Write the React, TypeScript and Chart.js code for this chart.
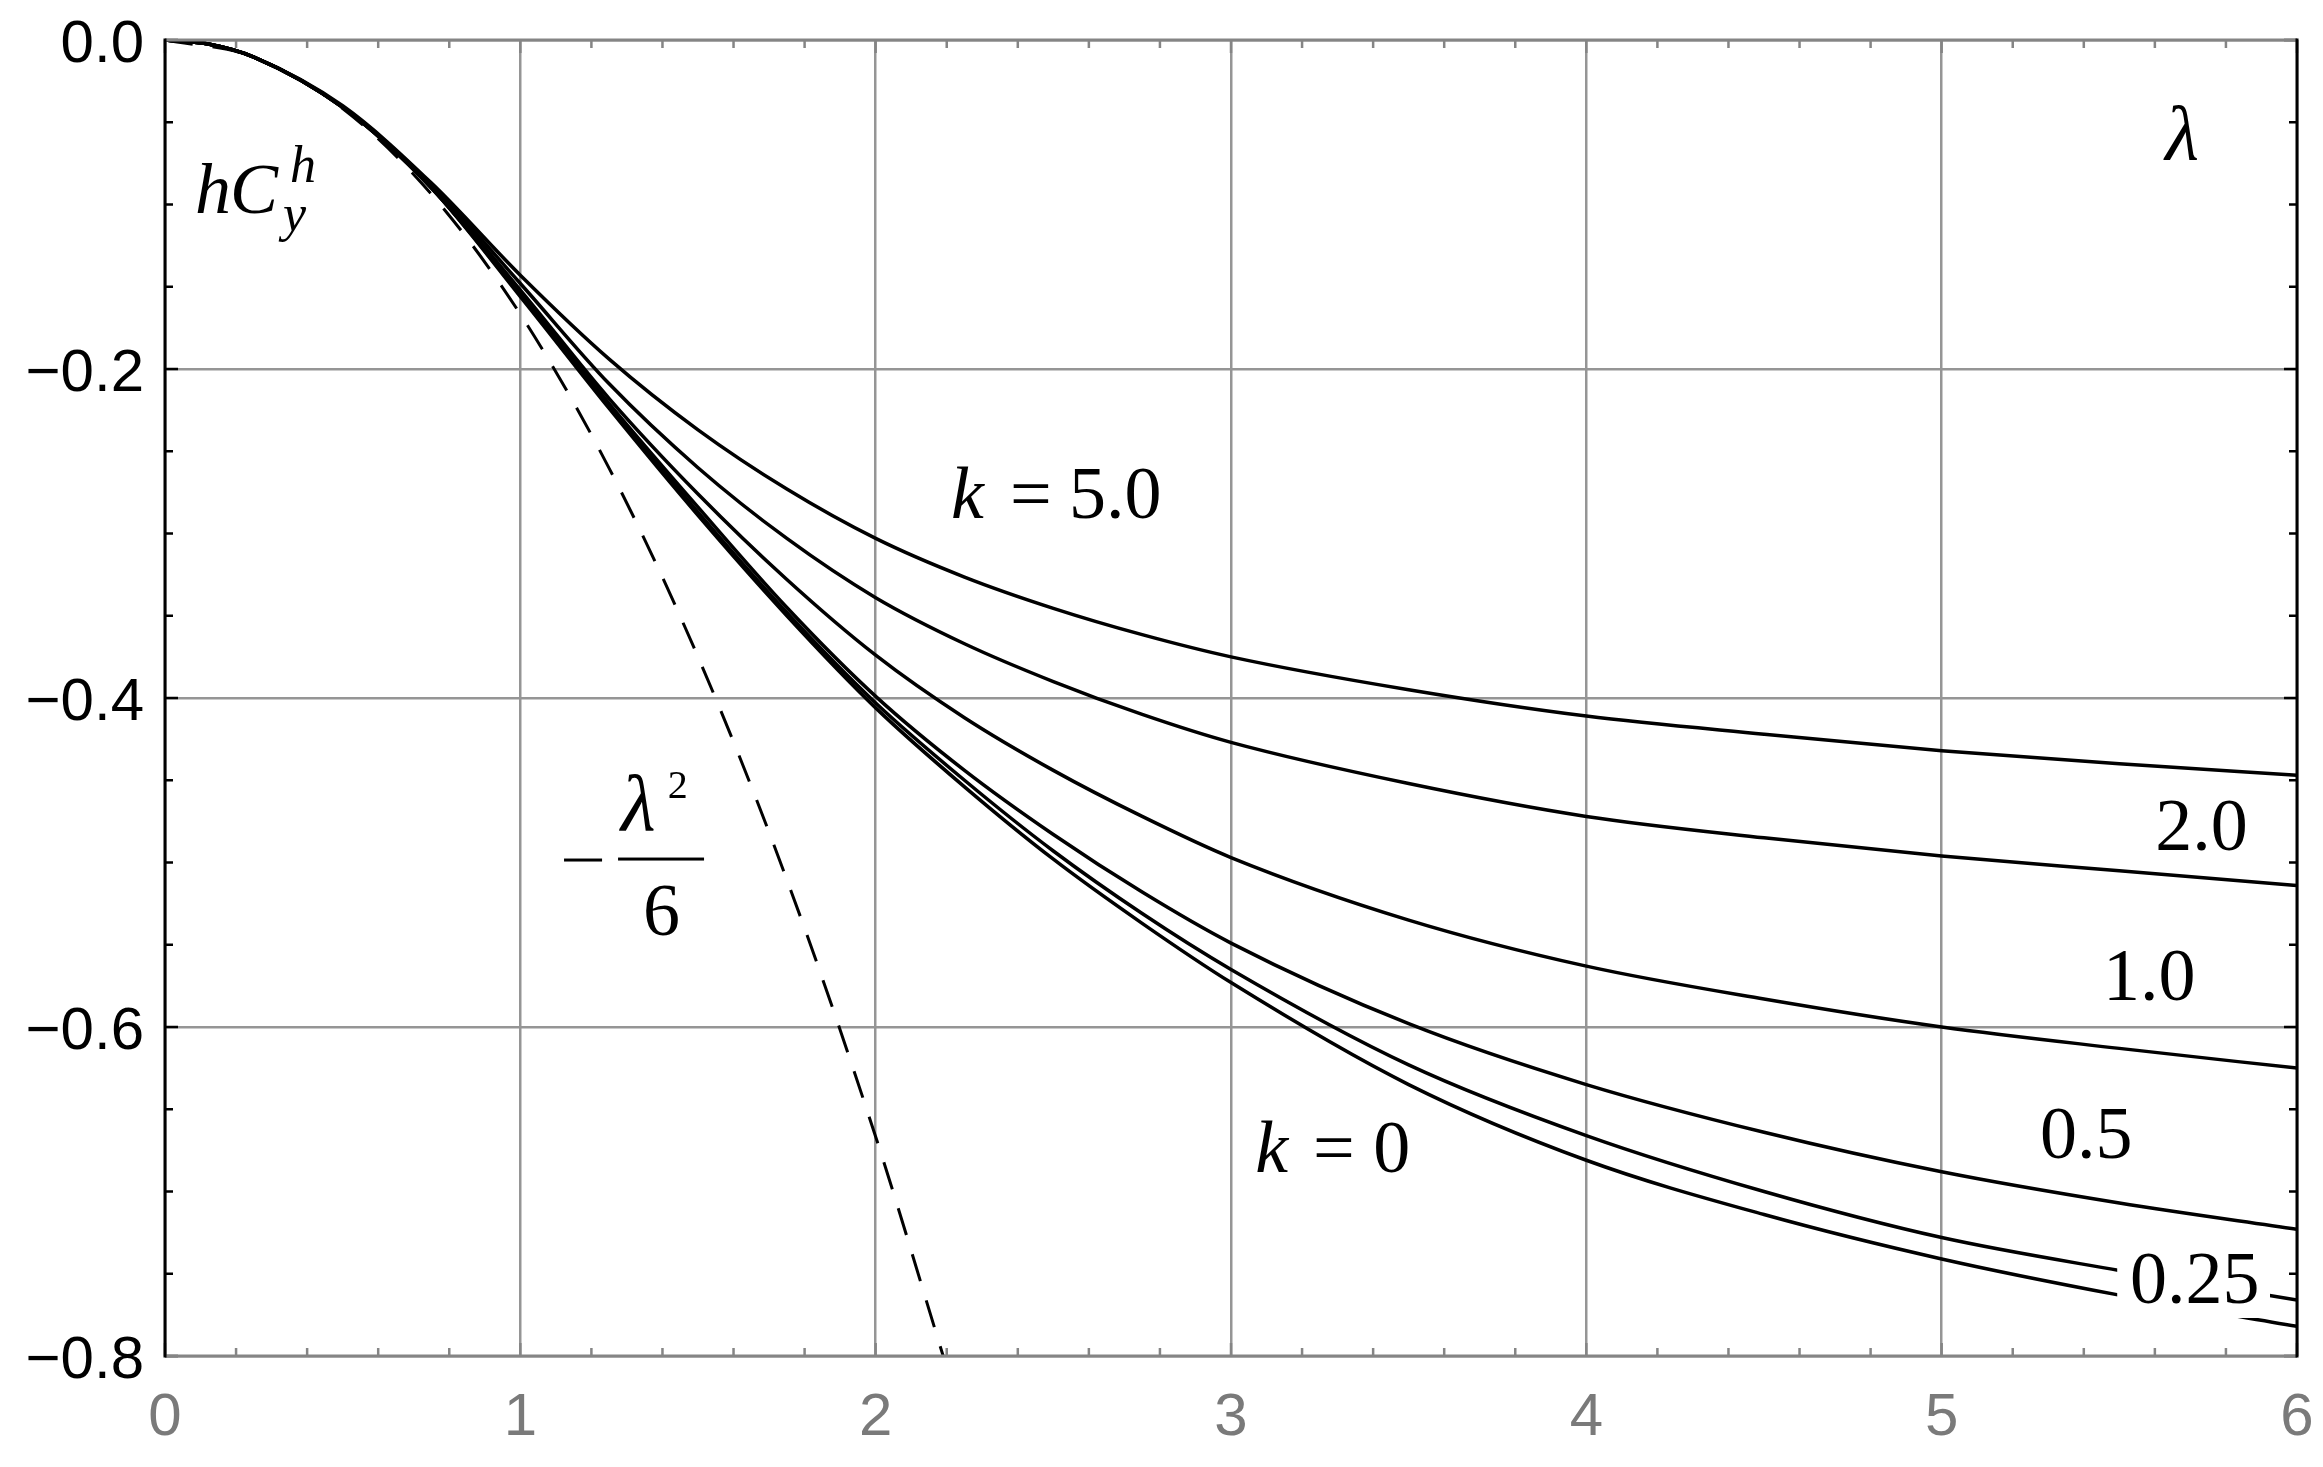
import React, { useEffect, useRef } from "react";
import { Chart, registerables } from "chart.js";

Chart.register(...registerables);

// λ sample points (x axis)
const lambda = [0, 0.125, 0.25, 0.5, 0.75, 1, 1.25, 1.5, 1.75, 2, 2.25, 2.5, 2.75, 3, 3.5, 4, 4.5, 5, 5.5, 6];

// hC_y^h values, one array per k
const k5 = [0, -0.0026, -0.0104, -0.040, -0.087, -0.143, -0.194, -0.237, -0.273, -0.303, -0.3265, -0.3455, -0.3615, -0.375, -0.395, -0.411, -0.422, -0.432, -0.440, -0.447];
const k2 = [0, -0.0026, -0.0104, -0.0406, -0.088, -0.148, -0.209, -0.260, -0.303, -0.339, -0.367, -0.390, -0.410, -0.427, -0.452, -0.472, -0.485, -0.496, -0.505, -0.514];
const k1 = [0, -0.0026, -0.0104, -0.0408, -0.089, -0.152, -0.218, -0.276, -0.328, -0.374, -0.412, -0.444, -0.472, -0.497, -0.535, -0.563, -0.583, -0.600, -0.613, -0.625];
const k05 = [0, -0.0026, -0.0104, -0.041, -0.090, -0.154, -0.221, -0.284, -0.345, -0.399, -0.444, -0.483, -0.518, -0.549, -0.598, -0.635, -0.664, -0.688, -0.707, -0.723];
const k025 = [0, -0.0026, -0.0104, -0.041, -0.090, -0.155, -0.222, -0.287, -0.348, -0.403, -0.450, -0.493, -0.531, -0.565, -0.623, -0.666, -0.700, -0.728, -0.748, -0.766];
const k0 = [0, -0.0026, -0.0104, -0.041, -0.090, -0.156, -0.224, -0.289, -0.350, -0.406, -0.454, -0.498, -0.537, -0.573, -0.635, -0.681, -0.714, -0.741, -0.763, -0.782];

// dashed curve −λ²/6
const dashLambda = [0, 0.25, 0.5, 0.75, 1, 1.25, 1.5, 1.75, 2, 2.19];
const dashValues = [0, -0.0104, -0.0417, -0.0938, -0.1667, -0.2604, -0.375, -0.5104, -0.6667, -0.8];

// ticks
const xTicks = [0, 1, 2, 3, 4, 5, 6];
const xTickLabels = ["0", "1", "2", "3", "4", "5", "6"];
const yTicks = [0, -0.2, -0.4, -0.6, -0.8];
const yTickLabels = ["0.0", "\u22120.2", "\u22120.4", "\u22120.6", "\u22120.8"];

// curve labels
const curveLabels = ["5.0", "2.0", "1.0", "0.5", "0.25", "0"];

const SERIF = '"Liberation Serif", "Times New Roman", serif';
const SANS = '"Liberation Sans", Arial, sans-serif';

const decorPlugin = {
  id: "decor",
  afterDatasetsDraw(chart: any) {
    const { ctx, chartArea: a, scales } = chart;
    const xs = scales.x;
    const ys = scales.y;
    const X = (v: number) => xs.getPixelForValue(v);
    const Y = (v: number) => ys.getPixelForValue(v);
    ctx.save();

    const put = (s: string, lx: number, ly: number, font: string, align: CanvasTextAlign = "left") => {
      ctx.font = font;
      ctx.textAlign = align;
      ctx.textBaseline = "alphabetic";
      ctx.fillStyle = "#000";
      ctx.fillText(s, X(lx), Y(ly));
    };
    const F = 74;
    const up = `${F}px ${SERIF}`;
    const it = `italic ${F}px ${SERIF}`;

    // white box behind "0.25"
    ctx.fillStyle = "#fff";
    ctx.fillRect(X(5.494), Y(-0.7325), X(5.924) - X(5.494), Y(-0.7769) - Y(-0.7325));

    // k = 5.0
    put("k", 2.212, -0.2906, it);
    put("=", 2.378, -0.2906, up);
    put(curveLabels[0], 2.544, -0.2906, up);
    // k = 0
    put("k", 3.068, -0.688, it);
    put("=", 3.231, -0.688, up);
    put(curveLabels[5], 3.4, -0.688, up);
    // right-side labels
    put(curveLabels[1], 5.601, -0.4924, up);
    put(curveLabels[2], 5.454, -0.5836, up);
    put(curveLabels[3], 5.277, -0.6796, up);
    put(curveLabels[4], 5.53, -0.7678, up);
    // λ
    put("\u03bb", 5.629, -0.0729, `italic 78px ${SERIF}`);
    // hC_y^h
    put("h", 0.0844, -0.1052, `italic 72px ${SERIF}`);
    put("C", 0.183, -0.1052, `italic 72px ${SERIF}`);
    put("y", 0.332, -0.1161, `italic 52px ${SERIF}`);
    put("h", 0.352, -0.0863, `italic 52px ${SERIF}`);
    // −λ²/6
    ctx.fillStyle = "#000";
    ctx.fillRect(X(1.123), Y(-0.4985) - 1.5, X(1.23) - X(1.123), 3);
    ctx.fillRect(X(1.275), Y(-0.4979) - 1.5, X(1.517) - X(1.275), 3);
    put("\u03bb", 1.283, -0.4802, `italic 80px ${SERIF}`);
    put("2", 1.415, -0.4608, `40px ${SERIF}`);
    put("6", 1.345, -0.5441, up);

    // tick labels
    ctx.font = `60px ${SANS}`;
    ctx.textBaseline = "alphabetic";
    ctx.fillStyle = "#000";
    ctx.textAlign = "right";
    yTicks.forEach((v, i) => ctx.fillText(yTickLabels[i], a.left - 21, Y(v) + 21.5));
    ctx.fillStyle = "#7a7a7a";
    ctx.textAlign = "center";
    xTicks.forEach((v, i) => ctx.fillText(xTickLabels[i], X(v), a.bottom + 79));

    // frame ticks (inside)
    const minorY: number[] = [];
    for (let i = 0; i <= 16; i++) minorY.push(-0.05 * i);
    const minorX: number[] = [];
    for (let i = 0; i <= 30; i++) minorX.push(0.2 * i);
    const black = "#000";
    const gray = "#858585";
    ctx.lineWidth = 2.5;
    minorY.forEach((v, i) => {
      const len = i % 4 === 0 ? 13 : 8;
      const py = Y(v);
      ctx.strokeStyle = black;
      ctx.beginPath();
      ctx.moveTo(a.left, py);
      ctx.lineTo(a.left + len, py);
      ctx.moveTo(a.right, py);
      ctx.lineTo(a.right - len, py);
      ctx.stroke();
    });
    minorX.forEach((v, i) => {
      const len = i % 5 === 0 ? 13 : 8;
      const px = X(v);
      ctx.strokeStyle = gray;
      ctx.beginPath();
      ctx.moveTo(px, a.bottom);
      ctx.lineTo(px, a.bottom - len);
      ctx.moveTo(px, a.top);
      ctx.lineTo(px, a.top + len);
      ctx.stroke();
    });
    // frame
    ctx.lineWidth = 3;
    ctx.strokeStyle = gray;
    ctx.beginPath();
    ctx.moveTo(a.left, a.top);
    ctx.lineTo(a.right, a.top);
    ctx.moveTo(a.left, a.bottom);
    ctx.lineTo(a.right, a.bottom);
    ctx.stroke();
    ctx.strokeStyle = black;
    ctx.beginPath();
    ctx.moveTo(a.left, a.top - 1.5);
    ctx.lineTo(a.left, a.bottom + 1.5);
    ctx.moveTo(a.right, a.top - 1.5);
    ctx.lineTo(a.right, a.bottom + 1.5);
    ctx.stroke();
    ctx.restore();
  },
};

export default function App() {
  const ref = useRef<HTMLCanvasElement | null>(null);
  useEffect(() => {
    document.body.style.margin = "0";
    const canvas = ref.current;
    if (!canvas) return;
    const mk = (vals: number[]) => lambda.map((l, i) => ({ x: l, y: vals[i] }));
    const solid = (vals: number[]) => ({
      data: mk(vals),
      borderColor: "#000",
      borderWidth: 3.5,
      pointRadius: 0,
      fill: false,
      cubicInterpolationMode: "monotone" as const,
    });
    const chart = new Chart(canvas, {
      type: "line",
      data: {
        datasets: [
          solid(k5),
          solid(k2),
          solid(k1),
          solid(k05),
          solid(k025),
          solid(k0),
          {
            data: dashLambda.map((l, i) => ({ x: l, y: dashValues[i] })),
            borderColor: "#000",
            borderWidth: 3,
            borderDash: [28, 20],
            borderCapStyle: "butt",
            pointRadius: 0,
            fill: false,
            cubicInterpolationMode: "monotone",
          } as any,
        ],
      },
      options: {
        responsive: false,
        devicePixelRatio: 1,
        animation: false,
        layout: { padding: { top: 40, right: 26, left: 0, bottom: 0 } },
        plugins: { legend: { display: false }, tooltip: { enabled: false } },
        scales: {
          x: {
            type: "linear",
            min: 0,
            max: 6,
            ticks: { display: false, stepSize: 1 },
            grid: { color: "#959595", lineWidth: 2.5, drawTicks: false },
            border: { display: false },
            afterFit: (s: any) => {
              s.height = 111;
            },
          },
          y: {
            type: "linear",
            min: -0.8,
            max: 0,
            ticks: { display: false, stepSize: 0.2 },
            grid: { color: "#959595", lineWidth: 2.5, drawTicks: false },
            border: { display: false },
            afterFit: (s: any) => {
              s.width = 165;
            },
          },
        },
      },
      plugins: [decorPlugin],
    });
    return () => chart.destroy();
  }, []);
  return (
    <div style={{ width: 2323, height: 1467, background: "#fff" }}>
      <canvas ref={ref} width={2323} height={1467} style={{ width: 2323, height: 1467, display: "block" }} />
    </div>
  );
}
